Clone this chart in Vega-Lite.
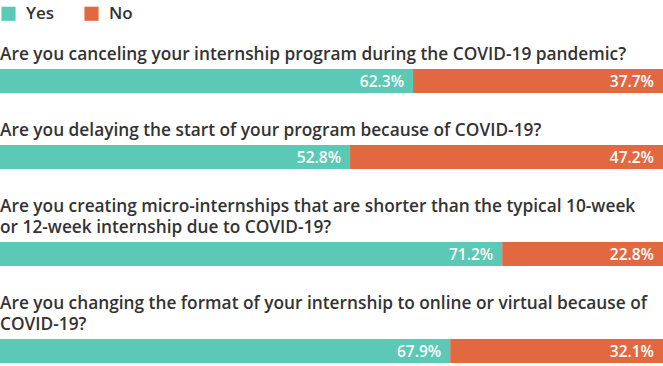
{
  "$schema": "https://vega.github.io/schema/vega-lite/v6.json",
  "padding": {"left": 0, "top": 5, "right": 0, "bottom": 0},
  "background": "white",
  "config": {
    "view": {"stroke": null},
    "font": "Open Sans",
    "concat": {"spacing": 28},
    "title": {"anchor": "start", "fontSize": 17.3, "fontWeight": 600, "color": "#333333", "lineHeight": 21, "offset": 6, "font": "Open Sans"},
    "legend": {"orient": "top", "direction": "horizontal", "title": null, "symbolType": "square", "symbolSize": 200, "symbolStrokeWidth": 0, "labelFontSize": 17, "labelFontWeight": 600, "labelColor": "#333333", "labelFont": "Open Sans", "columnPadding": 28, "labelOffset": 9, "offset": 23, "padding": 0}
  },
  "data": {"values": [
    {"q": "q1", "answer": "Yes", "value": 0.623},
    {"q": "q1", "answer": "No", "value": 0.377},
    {"q": "q2", "answer": "Yes", "value": 0.528},
    {"q": "q2", "answer": "No", "value": 0.472},
    {"q": "q3", "answer": "Yes", "value": 0.712},
    {"q": "q3", "answer": "No", "value": 0.228},
    {"q": "q4", "answer": "Yes", "value": 0.679},
    {"q": "q4", "answer": "No", "value": 0.321}
  ]},
  "vconcat": [
    {
      "title": {"text": ["Are you canceling your internship program during the COVID-19 pandemic?"]},
      "transform": [{"filter": "datum.q == 'q1'"}],
      "width": 663, "height": 24,
      "encoding": {
        "y": {"field": "q", "type": "nominal", "axis": null, "scale": {"padding": 0}},
        "x": {"field": "value", "type": "quantitative", "stack": "normalize", "axis": null, "scale": {"nice": false}},
        "order": {"field": "answer", "sort": "descending"}
      },
      "layer": [
        {"mark": {"type": "bar"}, "encoding": {"color": {"field": "answer", "type": "nominal", "sort": ["Yes", "No"], "scale": {"domain": ["Yes", "No"], "range": ["#5CC8B6", "#E26841"]}}}},
        {"mark": {"type": "text", "align": "right", "baseline": "middle", "dx": -9, "dy": 1, "color": "white", "fontSize": 15.5, "fontWeight": 600}, "encoding": {"detail": {"field": "answer"}, "text": {"field": "value", "type": "quantitative", "format": ".1%"}}}
      ]
    },
    {
      "title": {"text": ["Are you delaying the start of your program because of COVID-19?"]},
      "transform": [{"filter": "datum.q == 'q2'"}],
      "width": 663, "height": 24,
      "encoding": {
        "y": {"field": "q", "type": "nominal", "axis": null, "scale": {"padding": 0}},
        "x": {"field": "value", "type": "quantitative", "stack": "normalize", "axis": null, "scale": {"nice": false}},
        "order": {"field": "answer", "sort": "descending"}
      },
      "layer": [
        {"mark": {"type": "bar"}, "encoding": {"color": {"field": "answer", "type": "nominal", "sort": ["Yes", "No"], "scale": {"domain": ["Yes", "No"], "range": ["#5CC8B6", "#E26841"]}}}},
        {"mark": {"type": "text", "align": "right", "baseline": "middle", "dx": -9, "dy": 1, "color": "white", "fontSize": 15.5, "fontWeight": 600}, "encoding": {"detail": {"field": "answer"}, "text": {"field": "value", "type": "quantitative", "format": ".1%"}}}
      ]
    },
    {
      "title": {"text": ["Are you creating micro-internships that are shorter than the typical 10-week", "or 12-week internship due to COVID-19?"]},
      "transform": [{"filter": "datum.q == 'q3'"}],
      "width": 663, "height": 24,
      "encoding": {
        "y": {"field": "q", "type": "nominal", "axis": null, "scale": {"padding": 0}},
        "x": {"field": "value", "type": "quantitative", "stack": "normalize", "axis": null, "scale": {"nice": false}},
        "order": {"field": "answer", "sort": "descending"}
      },
      "layer": [
        {"mark": {"type": "bar"}, "encoding": {"color": {"field": "answer", "type": "nominal", "sort": ["Yes", "No"], "scale": {"domain": ["Yes", "No"], "range": ["#5CC8B6", "#E26841"]}}}},
        {"mark": {"type": "text", "align": "right", "baseline": "middle", "dx": -9, "dy": 1, "color": "white", "fontSize": 15.5, "fontWeight": 600}, "encoding": {"detail": {"field": "answer"}, "text": {"field": "value", "type": "quantitative", "format": ".1%"}}}
      ]
    },
    {
      "title": {"text": ["Are you changing the format of your internship to online or virtual because of", "COVID-19?"]},
      "transform": [{"filter": "datum.q == 'q4'"}],
      "width": 663, "height": 24,
      "encoding": {
        "y": {"field": "q", "type": "nominal", "axis": null, "scale": {"padding": 0}},
        "x": {"field": "value", "type": "quantitative", "stack": "normalize", "axis": null, "scale": {"nice": false}},
        "order": {"field": "answer", "sort": "descending"}
      },
      "layer": [
        {"mark": {"type": "bar"}, "encoding": {"color": {"field": "answer", "type": "nominal", "sort": ["Yes", "No"], "scale": {"domain": ["Yes", "No"], "range": ["#5CC8B6", "#E26841"]}}}},
        {"mark": {"type": "text", "align": "right", "baseline": "middle", "dx": -9, "dy": 1, "color": "white", "fontSize": 15.5, "fontWeight": 600}, "encoding": {"detail": {"field": "answer"}, "text": {"field": "value", "type": "quantitative", "format": ".1%"}}}
      ]
    }
  ],
  "resolve": {"scale": {"color": "shared"}}
}
